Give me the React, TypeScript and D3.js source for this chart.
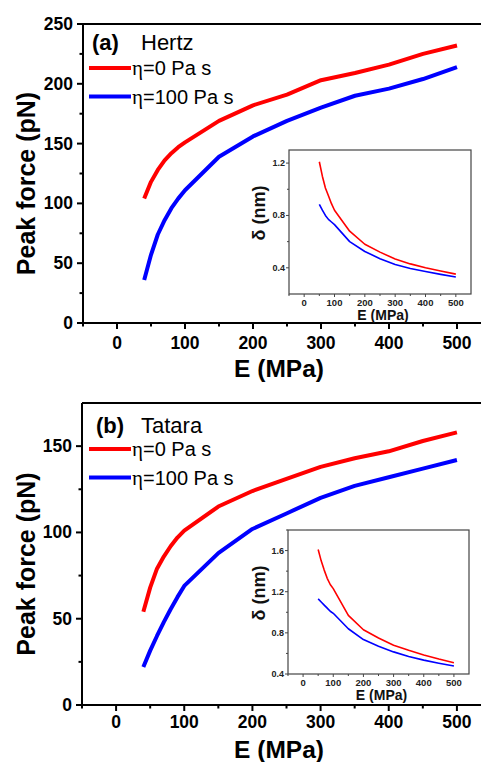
import React from "react";
import * as d3 from "d3";

// ---------- data ----------
const E_MAIN = [40, 50, 60, 70, 80, 90, 100, 150, 200, 250, 300, 350, 400, 450, 500];
const HERTZ_ETA0 = [104, 118, 128, 136, 142, 147, 151, 169, 182, 191, 203, 209, 216, 225, 232];
const HERTZ_ETA100 = [36, 57, 74, 86, 96, 104, 111, 139, 156, 169, 180, 190, 196, 204, 214];
const TATARA_ETA0 = [54, 68, 79, 86, 92, 97, 101, 115, 124, 131, 138, 143, 147, 153, 158];
const TATARA_ETA100 = [22, 31.5, 40, 48, 55.5, 62.5, 69, 88, 102, 111, 120, 127, 132, 137, 142];

const E_INSET = [50, 60, 70, 80, 90, 100, 150, 200, 250, 300, 350, 400, 450, 500];
const HERTZ_DELTA_ETA0 = [1.21, 1.1, 1.01, 0.95, 0.89, 0.84, 0.68, 0.58, 0.52, 0.467, 0.43, 0.4, 0.375, 0.352];
const HERTZ_DELTA_ETA100 = [0.885, 0.84, 0.8, 0.77, 0.75, 0.73, 0.6, 0.525, 0.47, 0.425, 0.395, 0.372, 0.35, 0.33];
const TATARA_DELTA_ETA0 = [1.61, 1.5, 1.41, 1.33, 1.27, 1.23, 0.97, 0.83, 0.75, 0.68, 0.63, 0.585, 0.545, 0.51];
const TATARA_DELTA_ETA100 = [1.13, 1.1, 1.07, 1.04, 1.01, 0.99, 0.84, 0.735, 0.67, 0.615, 0.57, 0.535, 0.505, 0.477];

const X_TICKS = [0, 100, 200, 300, 400, 500];
const X_MINOR = [-50, 50, 150, 250, 350, 450];
const HERTZ_Y_TICKS = [0, 50, 100, 150, 200, 250];
const TATARA_Y_TICKS = [0, 50, 100, 150];
const HERTZ_INSET_Y_TICKS = [0.4, 0.8, 1.2];
const TATARA_INSET_Y_TICKS = [0.4, 0.8, 1.2, 1.6];
const LEGEND_LABELS = ["=0 Pa s", "=100 Pa s"];
const COLORS = ["#ff0000", "#0000ff"];

const SANS = "'Liberation Sans', Arial, sans-serif";

type PanelProps = {
  letter: string;
  model: string;
  yMax: number;
  yTicks: number[];
  series: number[][];
  insetSeries: number[][];
  insetY: [number, number];
  insetTicks: number[];
  box: { l: number; t: number; r: number; b: number };
  inset: { l: number; t: number; r: number; b: number };
  legend: { titleY: number; line1: number; letterX: number };
  xTitleOffset: number;
  xTickOffset: number;
};

function Panel(p: PanelProps) {
  const x = d3.scaleLinear().domain([-50, 550]).range([p.box.l, p.box.r]);
  const y = d3.scaleLinear().domain([0, p.yMax]).range([p.box.b, p.box.t]);
  const ix = d3.scaleLinear().domain([-50, 550]).range([p.inset.l, p.inset.r]);
  const iy = d3.scaleLinear().domain(p.insetY).range([p.inset.b, p.inset.t]);

  const line = d3
    .line<number>()
    .x((_, i) => x(E_MAIN[i]))
    .y((d) => y(d));
  const iline = d3
    .line<number>()
    .x((_, i) => ix(E_INSET[i]))
    .y((d) => iy(d));

  const yMinor: number[] = [];
  for (let v = 25; v < p.yMax; v += 50) yMinor.push(v);
  const step = p.insetTicks[1] - p.insetTicks[0];
  const iyMinor: number[] = [];
  for (let v = p.insetTicks[0] + step / 2; v < p.insetY[1]; v += step) iyMinor.push(+v.toFixed(3));

  const plotMidY = (p.box.t + p.box.b) / 2;
  const insetMidY = (p.inset.t + p.inset.b) / 2;

  return (
    <g>
      {/* main frame */}
      <line x1={p.box.l} x2={p.box.r} y1={p.box.t} y2={p.box.t} stroke="#000" strokeWidth={2} />
      <line x1={p.box.l} x2={p.box.l} y1={p.box.t} y2={p.box.b} stroke="#000" strokeWidth={2} />
      <line x1={p.box.l} x2={p.box.r} y1={p.box.b} y2={p.box.b} stroke="#000" strokeWidth={2} />
      <line x1={p.box.r} x2={p.box.r} y1={p.box.t} y2={p.box.b} stroke="#000" strokeWidth={2} />
      {/* x ticks */}
      {X_TICKS.map((v) => (
        <g key={"xt" + v}>
          <line x1={x(v)} x2={x(v)} y1={p.box.b} y2={p.box.b + 6} stroke="#000" strokeWidth={2} />
          <text x={x(v)} y={p.box.b + p.xTickOffset} textAnchor="middle" fontFamily={SANS} fontWeight="bold" fontSize={17.5}>
            {v}
          </text>
        </g>
      ))}
      {X_MINOR.map((v) => (
        <line key={"xm" + v} x1={x(v)} x2={x(v)} y1={p.box.b} y2={p.box.b + 3.5} stroke="#000" strokeWidth={2} />
      ))}
      {/* y ticks */}
      {p.yTicks.map((v) => (
        <g key={"yt" + v}>
          <line x1={p.box.l - 6} x2={p.box.l} y1={y(v)} y2={y(v)} stroke="#000" strokeWidth={2} />
          <text x={p.box.l - 10} y={y(v) + 6} textAnchor="end" fontFamily={SANS} fontWeight="bold" fontSize={17.5}>
            {v}
          </text>
        </g>
      ))}
      {yMinor.map((v) => (
        <line key={"ym" + v} x1={p.box.l - 3.5} x2={p.box.l} y1={y(v)} y2={y(v)} stroke="#000" strokeWidth={2} />
      ))}
      {/* axis titles */}
      <text x={279} y={p.box.b + p.xTitleOffset} textAnchor="middle" fontFamily={SANS} fontWeight="bold" fontSize={24.5}>
        E (MPa)
      </text>
      <text
        transform={`translate(35,${plotMidY + 10}) rotate(-90)`}
        textAnchor="middle"
        fontFamily={SANS}
        fontWeight="bold"
        fontSize={25}
      >
        Peak force (pN)
      </text>
      {/* curves */}
      {p.series.map((s, i) => (
        <path key={"s" + i} d={line(s) || ""} fill="none" stroke={COLORS[i]} strokeWidth={4} strokeLinejoin="round" />
      ))}
      {/* legend */}
      <text x={p.legend.letterX} y={p.legend.titleY} fontFamily={SANS} fontWeight="bold" fontSize={22}>
        ({p.letter})
      </text>
      <text x={141} y={p.legend.titleY} fontFamily={SANS} fontSize={22}>
        {p.model}
      </text>
      {LEGEND_LABELS.map((lab, i) => {
        const ly = p.legend.line1 + i * 28.5;
        return (
          <g key={"lg" + i}>
            <line x1={89} x2={131} y1={ly} y2={ly} stroke={COLORS[i]} strokeWidth={4} />
            <text x={132} y={ly + 7} fontFamily={SANS} fontSize={20}>
              <tspan fontFamily="'Liberation Serif', 'Times New Roman', serif" fontSize={21}>
                η
              </tspan>
              {lab}
            </text>
          </g>
        );
      })}
      {/* inset */}
      <rect
        x={p.inset.l}
        y={p.inset.t}
        width={p.inset.r - p.inset.l}
        height={p.inset.b - p.inset.t}
        fill="#fff"
        stroke="#444"
        strokeWidth={1.2}
      />
      {X_TICKS.map((v) => (
        <g key={"ixt" + v}>
          <line x1={ix(v)} x2={ix(v)} y1={p.inset.b} y2={p.inset.b + 3} stroke="#444" strokeWidth={1} />
          <text x={ix(v)} y={p.inset.b + 12} textAnchor="middle" fontFamily={SANS} fontWeight="bold" fontSize={9.5} fill="#222">
            {v}
          </text>
        </g>
      ))}
      {X_MINOR.map((v) => (
        <line key={"ixm" + v} x1={ix(v)} x2={ix(v)} y1={p.inset.b} y2={p.inset.b + 2} stroke="#444" strokeWidth={1} />
      ))}
      {p.insetTicks.map((v) => (
        <g key={"iyt" + v}>
          <line x1={p.inset.l - 3} x2={p.inset.l} y1={iy(v)} y2={iy(v)} stroke="#444" strokeWidth={1} />
          <text x={p.inset.l - 4} y={iy(v) + 3} textAnchor="end" fontFamily={SANS} fontWeight="bold" fontSize={9} fill="#222">
            {v.toFixed(1)}
          </text>
        </g>
      ))}
      {iyMinor.map((v) => (
        <line key={"iym" + v} x1={p.inset.l - 2} x2={p.inset.l} y1={iy(v)} y2={iy(v)} stroke="#444" strokeWidth={1} />
      ))}
      <text x={(p.inset.l + p.inset.r) / 2 + 3} y={p.inset.b + 26} textAnchor="middle" fontFamily={SANS} fontWeight="bold" fontSize={14} fill="#111">
        E (MPa)
      </text>
      <text
        transform={`translate(265,${insetMidY - 9}) rotate(-90)`}
        textAnchor="middle"
        fontFamily={SANS}
        fontWeight="bold"
        fontSize={18}
        fill="#111"
      >
        δ (nm)
      </text>
      {p.insetSeries.map((s, i) => (
        <path key={"is" + i} d={iline(s) || ""} fill="none" stroke={COLORS[i]} strokeWidth={1.6} strokeLinejoin="round" />
      ))}
    </g>
  );
}

export default function App() {
  return (
    <svg
      width={481}
      height={762}
      viewBox="0 0 481 762"
      style={{ position: "absolute", left: 0, top: 0, background: "#fff" }}
    >
      <rect width={481} height={762} fill="#fff" />
      <Panel
        letter="a"
        model="Hertz"
        yMax={250}
        yTicks={HERTZ_Y_TICKS}
        series={[HERTZ_ETA0, HERTZ_ETA100]}
        insetSeries={[HERTZ_DELTA_ETA0, HERTZ_DELTA_ETA100]}
        insetY={[0.2, 1.3]}
        insetTicks={HERTZ_INSET_Y_TICKS}
        box={{ l: 83, t: 24, r: 491, b: 323 }}
        inset={{ l: 289, t: 150, r: 471, b: 294 }}
        legend={{ titleY: 50, line1: 68, letterX: 92 }}
        xTitleOffset={54}
        xTickOffset={26}
      />
      <Panel
        letter="b"
        model="Tatara"
        yMax={175}
        yTicks={TATARA_Y_TICKS}
        series={[TATARA_ETA0, TATARA_ETA100]}
        insetSeries={[TATARA_DELTA_ETA0, TATARA_DELTA_ETA100]}
        insetY={[0.4, 1.8]}
        insetTicks={TATARA_INSET_Y_TICKS}
        box={{ l: 82, t: 403, r: 491, b: 705 }}
        inset={{ l: 288, t: 530, r: 469, b: 674 }}
        legend={{ titleY: 433, line1: 449, letterX: 96 }}
        xTitleOffset={53}
        xTickOffset={23}
      />
    </svg>
  );
}
